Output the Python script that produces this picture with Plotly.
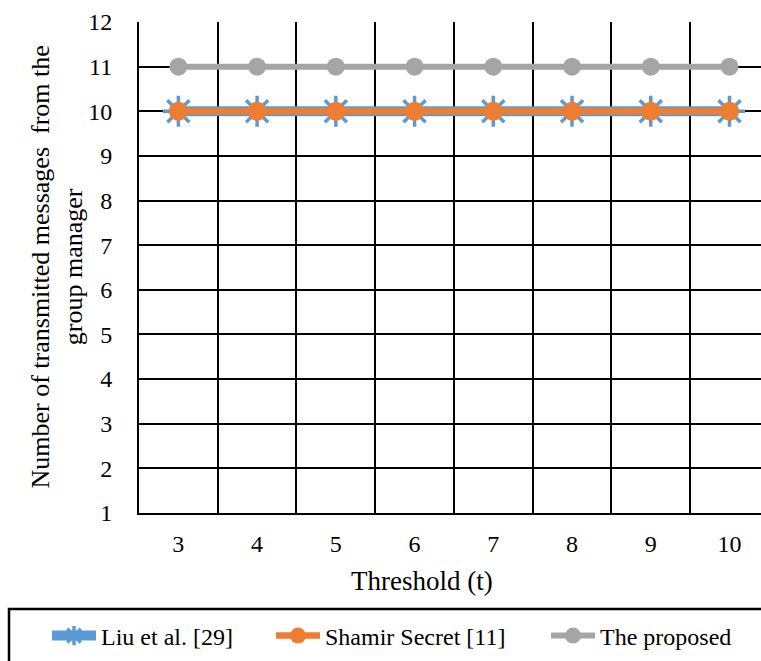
import plotly.graph_objects as go

thresholds = ["3", "4", "5", "6", "7", "8", "9", "10"]
liu = [10, 10, 10, 10, 10, 10, 10, 10]
shamir = [10, 10, 10, 10, 10, 10, 10, 10]
proposed = [11, 11, 11, 11, 11, 11, 11, 11]
y_ticks = list(range(1, 13))

FONT = "Liberation Serif"
BLUE = "#5B9BD5"
ORANGE = "#ED7D31"
GRAY = "#A5A5A5"

W, H = 761, 661
L, T, B = 139, 22, 148
PW, PH = W - L, 513 - T

fig = go.Figure()
fig.add_trace(go.Scatter(
    x=thresholds, y=liu, name="Liu et al. [29]", mode="lines+markers",
    line=dict(color=BLUE, width=10), legend="legend",
    marker=dict(symbol="asterisk-open", size=26, line=dict(color=BLUE, width=3.5)),
))
fig.add_trace(go.Scatter(
    x=thresholds, y=shamir, name="Shamir Secret [11]", mode="lines+markers",
    line=dict(color=ORANGE, width=6.5), legend="legend2",
    marker=dict(symbol="circle", size=19, color=ORANGE),
))
fig.add_trace(go.Scatter(
    x=thresholds, y=proposed, name="The proposed", mode="lines+markers",
    line=dict(color=GRAY, width=6), legend="legend3",
    marker=dict(symbol="circle", size=18, color=GRAY),
))


def leg(xpx):
    return dict(
        orientation="h", x=(xpx - L) / PW, xanchor="left", y=(513 - 636) / PH, yanchor="middle",
        font=dict(family=FONT, size=24, color="black"),
        bgcolor="rgba(0,0,0,0)", itemwidth=44,
    )


fig.update_layout(
    width=W, height=H,
    margin=dict(l=L, r=0, t=T, b=B),
    paper_bgcolor="white", plot_bgcolor="white",
    font=dict(family=FONT, size=24, color="black"),
    showlegend=True,
    legend=leg(47), legend2=leg(271), legend3=leg(546),
    xaxis=dict(
        type="category", range=[-0.5, 7.4], tickson="boundaries",
        showgrid=True, gridcolor="black", gridwidth=2,
        showline=True, linecolor="black", linewidth=2,
        ticks="", ticklabelstandoff=8,
        tickfont=dict(family=FONT, size=24), zeroline=False,
    ),
    yaxis=dict(
        range=[1, 12], tickvals=y_ticks,
        showgrid=True, gridcolor="black", gridwidth=2,
        showline=True, linecolor="black", linewidth=2,
        ticks="", ticklabelstandoff=20, zeroline=False,
        tickfont=dict(family=FONT, size=24),
    ),
    annotations=[
        dict(
            text="Threshold (t)", xref="paper", yref="paper",
            x=(422 - L) / PW, y=(513 - 581) / PH,
            xanchor="center", yanchor="middle", showarrow=False,
            font=dict(family=FONT, size=27),
        ),
        dict(
            text="Number of transmitted messages  from the<br>group manager",
            xref="paper", yref="paper", textangle=-90,
            x=(57 - L) / PW, y=0.5, xanchor="center", yanchor="middle",
            showarrow=False, font=dict(family=FONT, size=26),
        ),
    ],
    shapes=[dict(
        type="rect", xref="paper", yref="paper",
        x0=(9 - L) / PW, x1=(775 - L) / PW,
        y0=(513 - 609) / PH, y1=(513 - 680) / PH,
        line=dict(color="black", width=2.5), fillcolor="rgba(0,0,0,0)", layer="below",
    )],
)

fig.write_html("out.html")
